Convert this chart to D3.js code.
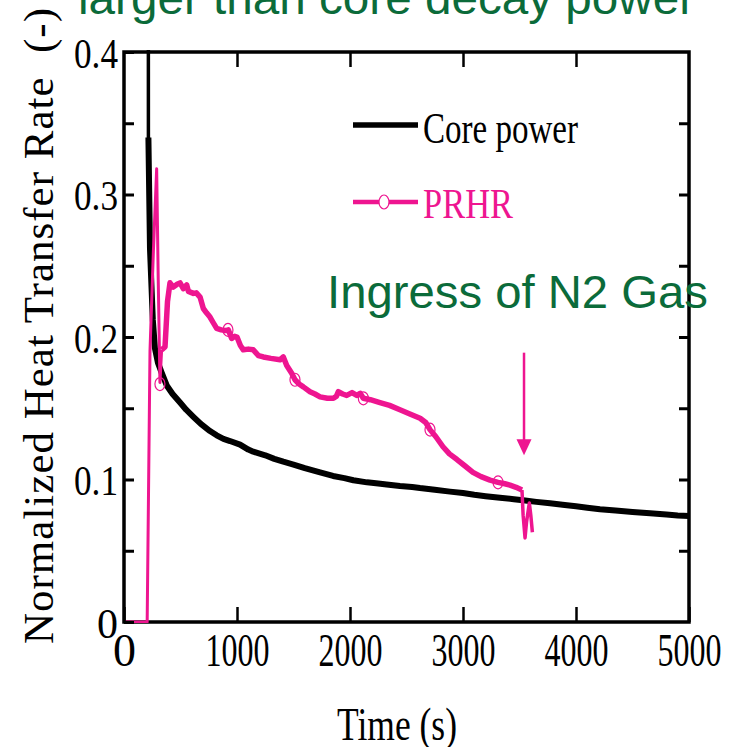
<!DOCTYPE html>
<html>
<head>
<meta charset="utf-8">
<script src="https://cdn.jsdelivr.net/npm/d3@7"></script>
<style>
  html, body { margin: 0; padding: 0; background: #fff; }
  svg { display: block; }
  .serif { font-family: "Liberation Serif", "Times New Roman", serif; }
  .sans { font-family: "Liberation Sans", Arial, sans-serif; }
</style>
</head>
<body>
<svg id="chart" width="734" height="747"></svg>
<script>
// ---------- data ----------
const coreT = [0,212,216,230,255,274,300,333,378,430,496,550,614,680,761,820,880,938,1027,1100,1144,1250,1330,1410,1500,1600,1735,1850,1950,2030,2150,2250,2324,2442,2550,2619,2750,2885,3000,3100,3200,3327,3450,3550,3650,3770,3900,4000,4100,4212,4350,4500,4655,4800,4900,5000];
const coreV = [1.0,1.0,0.34,0.262,0.212,0.192,0.182,0.175,0.166,0.160,0.154,0.149,0.144,0.139,0.134,0.131,0.1285,0.127,0.1245,0.121,0.1195,0.117,0.1145,0.1125,0.1105,0.108,0.105,0.1025,0.101,0.0995,0.098,0.0972,0.0965,0.0955,0.0948,0.094,0.0928,0.0915,0.0905,0.0893,0.0883,0.0872,0.0862,0.0852,0.0843,0.0833,0.0821,0.0812,0.0802,0.0791,0.0782,0.0772,0.0763,0.0754,0.0748,0.0744];

const prhrT = [0,205,230,260,289,303,318,333,363,385,407,436,470,496,525,555,570,614,640,673,702,730,761,790,820,860,900,923,953,980,1000,1030,1056,1100,1144,1190,1233,1300,1381,1410,1440,1484,1513,1550,1587,1646,1690,1735,1800,1853,1880,1897,1935,1971,2018,2060,2090,2118,2180,2265,2350,2442,2530,2620,2670,2708,2760,2823,2880,2947,3010,3088,3160,3239,3310,3370,3416,3470,3522,3532,3549,3562,3587,3600,3614];
const prhrV = [0,0,0.19,0.26,0.318,0.24,0.168,0.191,0.193,0.225,0.238,0.235,0.237,0.238,0.234,0.2365,0.232,0.2306,0.231,0.228,0.22,0.217,0.214,0.21,0.206,0.205,0.2045,0.205,0.199,0.2005,0.200,0.194,0.191,0.1915,0.191,0.187,0.186,0.185,0.184,0.186,0.180,0.1745,0.170,0.167,0.165,0.1616,0.160,0.158,0.157,0.157,0.1585,0.1616,0.160,0.159,0.161,0.159,0.1605,0.157,0.156,0.154,0.152,0.149,0.146,0.143,0.140,0.135,0.130,0.123,0.118,0.114,0.110,0.105,0.102,0.0996,0.098,0.097,0.096,0.0945,0.0926,0.075,0.059,0.070,0.0835,0.075,0.063];

const markerT = [318,920,1513,2118,2708,3310];
const markerV = [0.167,0.205,0.170,0.157,0.135,0.098];

const xTicks = [0,1000,2000,3000,4000,5000];
const xTickLabels = ["0","1000","2000","3000","4000","5000"];
const yTicks = [0,0.05,0.1,0.15,0.2,0.25,0.3,0.35,0.4];
const yTickLabels = {"0":"0","0.1":"0.1","0.2":"0.2","0.3":"0.3","0.4":"0.4"};

const seriesNames = ["Core power","PRHR"];
const annotTop = "larger than core decay power";
const annotN2 = "Ingress of N2 Gas";
const arrowT = 3540;
const arrowFrom = 0.189, arrowTo = 0.117;

// ---------- layout ----------
const MAGENTA = "#EE1590", GREEN = "#0B6B3A";
const L = 124, R = 689, T = 52, B = 622;
const svg = d3.select("#chart");
const x = d3.scaleLinear().domain([0,5000]).range([L,R]);
const y = d3.scaleLinear().domain([0,0.4]).range([B,T]);

svg.append("defs").append("clipPath").attr("id","clip")
  .append("rect").attr("x",L).attr("y",T-2).attr("width",R-L).attr("height",B-T+3);

// frame (drawn first so the data lie on top, as in the original)
svg.append("rect").attr("x",L).attr("y",T).attr("width",R-L).attr("height",B-T)
  .attr("fill","none").attr("stroke","#000").attr("stroke-width",3.5);

const coreData = coreT.map((t,i)=>({t, v: coreV[i]}));
const prhrData = prhrT.map((t,i)=>({t, v: prhrV[i]}));
const line = d3.line().x(d=>x(d.t)).y(d=>y(d.v));

const plot = svg.append("g").attr("clip-path","url(#clip)");
// core power: thin for the sharp scram drop, thick afterwards
plot.append("path").datum(coreData.filter(d=>d.t<=260))
  .attr("d",line).attr("fill","none").attr("stroke","#000").attr("stroke-width",3.5);
plot.append("path").datum(coreData.filter(d=>d.t>=216))
  .attr("d",line).attr("fill","none").attr("stroke","#000").attr("stroke-width",6)
  .attr("stroke-linejoin","round");
// PRHR
plot.append("path").datum(prhrData.filter(d=>d.t<=340))
  .attr("d",line).attr("fill","none").attr("stroke",MAGENTA).attr("stroke-width",3)
  .attr("stroke-linejoin","round");
plot.append("path").datum(prhrData.filter(d=>d.t>=333 && d.t<=3522))
  .attr("d",line).attr("fill","none").attr("stroke",MAGENTA).attr("stroke-width",5.5)
  .attr("stroke-linejoin","round");
plot.append("path").datum(prhrData.filter(d=>d.t>=3522))
  .attr("d",line).attr("fill","none").attr("stroke",MAGENTA).attr("stroke-width",3.5)
  .attr("stroke-linejoin","round");
plot.selectAll("ellipse.mk").data(markerT.map((t,i)=>({t, v: markerV[i]})))
  .enter().append("ellipse").attr("class","mk")
  .attr("cx",d=>x(d.t)).attr("cy",d=>y(d.v)).attr("rx",5).attr("ry",6.5)
  .attr("fill","none").attr("stroke",MAGENTA).attr("stroke-width",1.2);

// ---------- axes ----------
function squeeze(sel, w){ sel.attr("textLength", w).attr("lengthAdjust","spacingAndGlyphs"); }

const xAxis = svg.append("g").attr("transform",`translate(0,${B})`)
  .call(d3.axisBottom(x).tickValues(xTicks).tickSizeInner(-15).tickSizeOuter(0)
    .tickFormat((d,i)=>xTickLabels[i]));
xAxis.select(".domain").remove();
xAxis.selectAll(".tick line").attr("stroke","#000").attr("stroke-width",2.5);
xAxis.selectAll(".tick text").attr("class","serif").attr("dy",null).attr("y",44)
  .attr("font-size",46).attr("fill","#000")
  .each(function(d,i){ if (xTickLabels[i].length>1) squeeze(d3.select(this), 64); else squeeze(d3.select(this), 23); });

const xAxisTop = svg.append("g").attr("transform",`translate(0,${T})`)
  .call(d3.axisTop(x).tickValues(xTicks.slice(1,-1)).tickSizeInner(-15).tickSizeOuter(0).tickFormat(""));
xAxisTop.select(".domain").remove();
xAxisTop.selectAll(".tick line").attr("stroke","#000").attr("stroke-width",2.5);

const yAxis = svg.append("g").attr("transform",`translate(${L},0)`)
  .call(d3.axisLeft(y).tickValues(yTicks).tickSizeInner(-10).tickSizeOuter(0).tickPadding(6)
    .tickFormat(d=>{ const k = String(+d.toFixed(2)); return yTickLabels[k] || ""; }));
yAxis.select(".domain").remove();
yAxis.selectAll(".tick line").attr("stroke","#000").attr("stroke-width",3);
yAxis.selectAll(".tick text").attr("class","serif").attr("dy",null).attr("y",15)
  .attr("font-size",42).attr("fill","#000")
  .each(function(){ const s = d3.select(this).text(); if (s.length>1) squeeze(d3.select(this), 44); });

const yAxisR = svg.append("g").attr("transform",`translate(${R},0)`)
  .call(d3.axisRight(y).tickValues(yTicks.slice(1,-1)).tickSizeInner(-10).tickSizeOuter(0).tickFormat(""));
yAxisR.select(".domain").remove();
yAxisR.selectAll(".tick line").attr("stroke","#000").attr("stroke-width",3);

// axis titles
svg.append("text").attr("class","serif").attr("x",397).attr("y",740)
  .attr("text-anchor","middle").attr("font-size",47).text("Time (s)")
  .call(s=>squeeze(s,120));
svg.append("text").attr("class","serif")
  .attr("transform","translate(53,326) rotate(-90)")
  .attr("text-anchor","middle").attr("font-size",43)
  .style("white-space","pre")
  .attr("textLength",636).attr("lengthAdjust","spacing")
  .text("Normalized Heat Transfer Rate  (-)");

// legend
svg.append("line").attr("x1",353).attr("x2",418).attr("y1",125).attr("y2",125)
  .attr("stroke","#000").attr("stroke-width",5.5);
svg.append("text").attr("class","serif").attr("x",423).attr("y",143)
  .attr("font-size",45).text(seriesNames[0]).call(s=>squeeze(s,155));
svg.append("line").attr("x1",353).attr("x2",418).attr("y1",202).attr("y2",202)
  .attr("stroke",MAGENTA).attr("stroke-width",4.5);
svg.append("ellipse").attr("cx",384).attr("cy",202).attr("rx",5).attr("ry",7)
  .attr("fill","#fff").attr("stroke",MAGENTA).attr("stroke-width",1.2);
svg.append("text").attr("class","serif").attr("x",423).attr("y",218)
  .attr("font-size",43).attr("fill",MAGENTA).text(seriesNames[1]).call(s=>squeeze(s,90));

// annotations
svg.append("text").attr("class","sans").attr("x",78).attr("y",14)
  .attr("font-size",47).attr("fill",GREEN).text(annotTop)
  .attr("textLength",617).attr("lengthAdjust","spacingAndGlyphs");
svg.append("text").attr("class","sans").attr("x",327).attr("y",308)
  .attr("font-size",47).attr("fill",GREEN).text(annotN2)
  .attr("textLength",381).attr("lengthAdjust","spacingAndGlyphs");

// arrow
const ax = x(arrowT);
const headTop = y(arrowTo) - 16;
svg.append("line").attr("x1",ax).attr("x2",ax).attr("y1",y(arrowFrom)).attr("y2",headTop+2)
  .attr("stroke",MAGENTA).attr("stroke-width",2.5);
svg.append("path")
  .attr("d",`M${ax-7.5},${headTop} L${ax+7.5},${headTop} L${ax},${y(arrowTo)} Z`)
  .attr("fill",MAGENTA);
</script>
</body>
</html>
